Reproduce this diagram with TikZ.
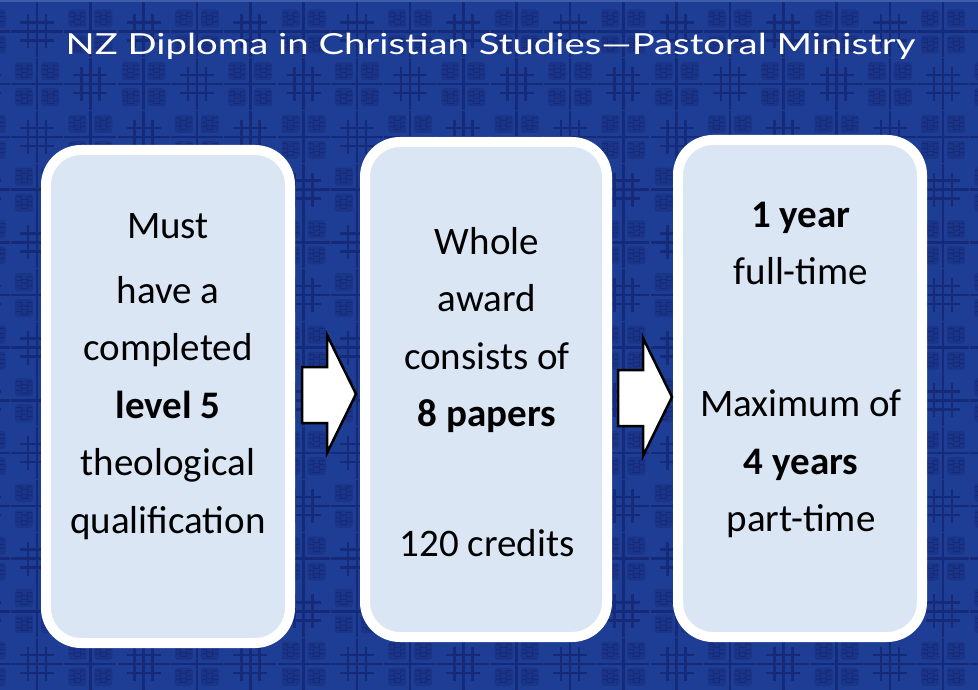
\documentclass[tikz,border=0pt]{standalone}
\usepackage{fontspec}
\setmainfont{Carlito}
\newfontfamily\titlefont[FakeStretch=1.32]{Lato}

\definecolor{bgblue}{RGB}{30,62,150}
\definecolor{topblue}{RGB}{62,92,170}
\definecolor{patblue}{RGB}{21,43,122}
\definecolor{tileblue}{RGB}{26,52,136}
\definecolor{boxfill}{RGB}{219,230,245}

\tikzset{
	patline/.style={draw=patblue, line width=2.6pt},
	mazeline/.style={draw=patblue, line width=1pt},
	hashmark/.pic={
		\draw[patline] (-26,0) -- (26,0) (0,-26) -- (0,26)
			(-17,-9) -- (17,-9) (-17,9) -- (17,9)
			(-9,-17) -- (-9,17) (9,-17) -- (9,17);
	},
	tile/.pic={
		\draw[patline] (-26,0) -- (26,0) (0,-26) -- (0,26);
		\foreach \sx/\sy in {-22/-22,4/-22,-22/4,4/4} {
			\fill[tileblue, rounded corners=3pt] (\sx,\sy) rectangle ++(18,18);
			\foreach \r in {3,7.5,12} {
				\draw[mazeline] (\sx+1,\sy+\r) -- ++(5,0) -- ++(0,3) -- ++(6,0) -- ++(0,-3) -- ++(5,0);
			}
		}
	},
	box/.style={draw=white, line width=10pt, fill=boxfill, rounded corners=35pt, inner sep=0pt},
	boxtext/.style={align=center, inner sep=0pt, anchor=north, font=\fontsize{39}{57.5}\selectfont},
	blockarrow/.pic={
		\draw[draw=black, fill=white, line width=2.5pt, line join=miter]
			(0,-27) -- (25,-27) -- (25,-59) -- (54,0) -- (25,59) -- (25,29) -- (0,29) -- cycle;
	}
}

\begin{document}
\begin{tikzpicture}[x=1pt,y=-1pt]
	\useasboundingbox (0,0) rectangle (978,690);
	\fill[bgblue] (0,0) rectangle (978,690);

	% background pattern
	\foreach \i in {-1,...,18} {
		\foreach \j in {-1,...,13} {
			\pgfmathtruncatemacro{\k}{mod(\i+\j+2,2)}
			\ifnum\k=0
				\pic at (37+53.3*\i,31.5+52.7*\j) {hashmark};
			\else
				\pic at (37+53.3*\i,31.5+52.7*\j) {tile};
			\fi
		}
	}
	\fill[topblue] (0,0) rectangle (978,2.5);

	\node[anchor=base, inner sep=0pt, text=white, font=\titlefont\fontsize{29}{31}\selectfont] (title) at (490.5,55) {NZ Diploma in Christian Studies—Pastoral Ministry};

	\node[box, minimum width=244pt, minimum height=493pt] (box1) at (168,396.5) {};
	\node[box, minimum width=242pt, minimum height=495pt] (box2) at (486,389.5) {};
	\node[box, minimum width=244pt, minimum height=497pt] (box3) at (800,388.5) {};

	\node[boxtext] (req) at (168,208) {\rule{0pt}{30pt}Must\\[7.5pt] have a\\ completed\\ \textbf{level 5}\\ theological\\ qualification};
	\node[boxtext] (award) at (487,224) {\rule{0pt}{30pt}Whole\\ award\\ consists of\\ \textbf{8 papers}\\[72.5pt] 120 credits};
	\node[boxtext] (dur) at (801,197) {\rule{0pt}{30pt}\textbf{1 year}\\ full-time\\[74.5pt] Maximum of\\ \textbf{4 years}\\ part-time};

	\pic at (302,394) {blockarrow};
	\pic at (618,397) {blockarrow};
\end{tikzpicture}
\end{document}
